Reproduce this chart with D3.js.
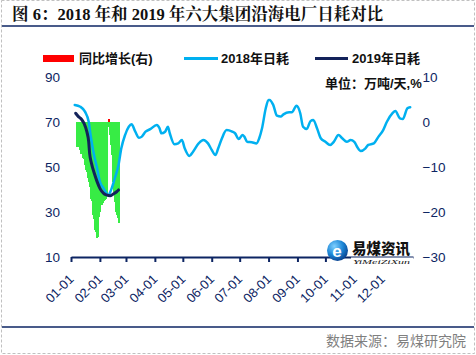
<!DOCTYPE html>
<html><head><meta charset="utf-8">
<script src="https://cdn.jsdelivr.net/npm/d3@7"></script>
<style>
html,body{margin:0;padding:0;background:#fff;}
svg{display:block;}
</style></head><body>
<svg id="chart" width="476" height="355"></svg>
<script>
// ---------------- data ----------------
const dates2018 = ["01-05","01-11","01-16","01-20","01-22","01-25","01-29","02-01","02-05","02-08","02-10","02-13","02-17","02-21","02-24","02-28",
"03-04","03-07","03-11","03-15","03-18","03-22","03-27","04-03","04-06","04-08","04-12","04-15","04-17","04-22","04-26","04-30",
"05-03","05-08","05-12","05-18","05-23","05-28","06-01","06-05","06-08","06-12","06-17","06-23","06-26","06-30",
"07-04","07-06","07-09","07-14","07-19","07-22","07-25","07-29","08-01","08-02","08-06","08-10","08-14","08-17","08-23","08-26","08-31",
"09-04","09-07","09-11","09-15","09-18","09-22","09-26","10-01","10-06","10-10","10-15","10-19","10-24","10-28",
"11-01","11-04","11-08","11-13","11-16","11-22","11-27","12-02","12-06","12-12","12-15","12-20","12-23","12-28","12-31"];
const values2018 = [77.6,76.8,74.6,70.1,64.2,56.8,49.4,43.5,40.5,38.3,37.4,39.8,45.0,50.9,58.3,64.2,
67.9,69.0,65.7,63.0,63.5,65.7,66.8,68.7,67.2,65.0,65.7,67.9,65.0,60.1,60.5,62.0,
58.3,54.9,56.8,60.5,62.0,60.5,57.6,55.3,58.3,62.8,66.4,65.7,65.0,62.4,
64.2,63.5,61.2,61.0,60.5,62.8,67.2,76.1,79.8,79.8,77.6,72.8,72.4,73.4,74.3,74.3,77.2,
73.9,67.9,66.9,70.4,70.9,67.2,62.8,61.2,59.8,61.2,64.2,62.8,61.2,62.0,
61.2,59.0,57.1,58.3,59.8,60.5,63.5,66.4,70.1,73.9,74.9,71.6,71.3,76.1,76.6];

const dates2019 = ["01-06","01-09","01-12","01-15","01-18","01-20","01-21","01-23","01-26","01-29","02-01","02-05","02-08","02-12","02-15","02-19","02-21"];
const values2019 = [73.9,72.4,71.3,69.4,65.7,61.2,56.1,51.6,47.2,43.5,40.5,38.3,37.6,37.2,37.9,39.0,39.8];

const growthDates = ["01-07","01-08","01-09","01-10","01-11","01-12","01-13","01-14","01-15","01-16","01-17","01-18","01-19","01-20",
"01-21","01-22","01-23","01-24","01-25","01-26","01-27","01-28","01-29","01-30","01-31","02-01","02-02","02-03","02-04","02-05",
"02-06","02-07","02-08","02-09","02-10","02-11","02-12","02-13","02-14","02-15","02-16","02-17","02-18","02-19","02-20","02-21"];
const growthValues = [-5.5,-5.5,-5.5,-6.2,-7.0,-7.0,-8.0,-8.2,-8.4,-9.5,-10.7,-11.2,-12.5,-13.3,
-14.5,-17.0,-17.5,-20.7,-21.5,-24.0,-24.5,-25.8,-25.5,-22.9,-21.0,-19.9,-18.4,-18.4,-18.0,-17.5,
-17.3,-17.0,-16.5,-1.0,0.6,-2.9,-5.0,-7.3,-10.5,-13.3,-15.5,-17.7,-20.0,-20.7,-21.3,-22.4];

const leftTicks = [10,30,50,70,90];
const rightTicks = [-30,-20,-10,0,10];
const monthTicks = ["01-01","02-01","03-01","04-01","05-01","06-01","07-01","08-01","09-01","10-01","11-01","12-01"];

const titleText = "图 6：2018 年和 2019 年六大集团沿海电厂日耗对比";
const legendLabels = ["同比增长(右)","2018年日耗","2019年日耗"];
const unitText = "单位：万吨/天,%";
const sourceText = "数据来源：易煤研究院";
const logoText = "易煤资讯";
const logoSub = "YiMeiZiXun";

// ---------------- drawing ----------------
const NAVY = "#0d2563";
const C2018 = "#00b0f0";
const C2019 = "#13225a";
const GREEN = "#37ec45";
const RED = "#ff0000";
const LATIN = "'Liberation Sans','Noto Sans CJK SC',sans-serif";

const parse = s => { const [m,d] = s.split("-").map(Number); return new Date(2018, m-1, d); };

const svg = d3.select("#chart");

// frame
svg.append("rect").attr("x",1.5).attr("y",0.5).attr("width",473).attr("height",353)
  .attr("fill","none").attr("stroke","#c0c0c0").attr("stroke-dasharray","3,2");
svg.append("line").attr("x1",2).attr("x2",474).attr("y1",26).attr("y2",26)
  .attr("stroke",NAVY).attr("stroke-width",1.5);
svg.append("line").attr("x1",2).attr("x2",474).attr("y1",327).attr("y2",327)
  .attr("stroke",NAVY).attr("stroke-width",1.5);

// title
svg.append("text").attr("x",12).attr("y",20)
  .attr("font-family","'Liberation Serif','Noto Serif CJK SC','Noto Sans CJK SC',serif")
  .attr("font-weight","bold").attr("font-size",16.5).attr("fill","#111")
  .text(titleText);

// source
svg.append("text").attr("x",466).attr("y",346).attr("text-anchor","end")
  .attr("font-family","'Noto Sans CJK SC',sans-serif").attr("font-size",14).attr("fill","#7f7f7f")
  .text(sourceText);

// scales
const x = d3.scaleTime().domain([new Date(2018,0,1), new Date(2019,0,3)]).range([71,413]);
const yL = d3.scaleLinear().domain([10,90]).range([257,77]);
const yR = d3.scaleLinear().domain([-30,10]).range([257,77]);

// bars (growth, right axis)
const growth = growthDates.map((d,i)=>({date:parse(d), v:growthValues[i]}));
const nextDay = dt => new Date(dt.getFullYear(), dt.getMonth(), dt.getDate()+1);
svg.append("g").attr("shape-rendering","crispEdges").selectAll("rect").data(growth).join("rect")
  .attr("x", d=>Math.floor(x(d.date)))
  .attr("width", d=>Math.max(1, Math.ceil(x(nextDay(d.date))) - Math.floor(x(d.date))))
  .attr("y", d=>Math.min(yR(0), yR(d.v)))
  .attr("height", d=>Math.abs(yR(d.v)-yR(0)))
  .attr("fill", d=> d.v >= 0 ? RED : GREEN);

// lines
const s2018 = dates2018.map((d,i)=>({date:parse(d), v:values2018[i]}));
const s2019 = dates2019.map((d,i)=>({date:parse(d), v:values2019[i]}));
const line = d3.line().x(d=>x(d.date)).y(d=>yL(d.v)).curve(d3.curveMonotoneX);
svg.append("path").datum(s2018).attr("d",line).attr("fill","none")
  .attr("stroke",C2018).attr("stroke-width",2.5).attr("stroke-linejoin","round").attr("stroke-linecap","round");
svg.append("path").datum(s2019).attr("d",line).attr("fill","none")
  .attr("stroke",C2019).attr("stroke-width",3).attr("stroke-linejoin","round").attr("stroke-linecap","round");

// left axis
const gL = svg.append("g").attr("transform","translate(60,0)")
  .call(d3.axisLeft(yL).tickValues(leftTicks).tickSize(0).tickPadding(0));
gL.select(".domain").remove();
gL.selectAll("text").attr("font-family",LATIN).attr("font-size",13.5).attr("fill",NAVY);

// right axis
const gR = svg.append("g").attr("transform","translate(422.5,0)")
  .call(d3.axisRight(yR).tickValues(rightTicks).tickSize(0).tickPadding(0));
gR.select(".domain").remove();
gR.selectAll("text").attr("font-family",LATIN).attr("font-size",13.5).attr("fill",NAVY);

// bottom axis
const gB = svg.append("g").attr("transform","translate(0,257)")
  .call(d3.axisBottom(x).tickValues(monthTicks.map(parse)).tickSize(5).tickSizeOuter(0)
    .tickFormat(d3.timeFormat("%m-%d")));
gB.select(".domain").attr("stroke",NAVY).attr("stroke-width",2);
gB.selectAll(".tick line").attr("stroke",NAVY).attr("stroke-width",2);
gB.selectAll(".tick text")
  .attr("font-family",LATIN).attr("font-size",13).attr("fill",NAVY)
  .attr("text-anchor","end").attr("x",0).attr("y",0).attr("dy",0)
  .attr("transform","translate(3,23) rotate(-45)");

// legend
const lg = svg.append("g").attr("font-family",LATIN).attr("font-weight","bold").attr("font-size",13).attr("fill","#111");
lg.append("rect").attr("x",43).attr("y",55).attr("width",31).attr("height",7).attr("fill",RED);
lg.append("text").attr("x",79).attr("y",63).text(legendLabels[0]);
lg.append("line").attr("x1",184).attr("x2",218).attr("y1",58.5).attr("y2",58.5).attr("stroke",C2018).attr("stroke-width",3);
lg.append("text").attr("x",221).attr("y",63).text(legendLabels[1]);
lg.append("line").attr("x1",315).attr("x2",348).attr("y1",58.5).attr("y2",58.5).attr("stroke",C2019).attr("stroke-width",3);
lg.append("text").attr("x",352).attr("y",63).text(legendLabels[2]);
lg.append("text").attr("x",325).attr("y",88).text(unitText);

// logo
const defs = svg.append("defs");
const rg = defs.append("radialGradient").attr("id","lg1").attr("cx","35%").attr("cy","30%").attr("r","75%");
rg.append("stop").attr("offset","0%").attr("stop-color","#7fd0ff");
rg.append("stop").attr("offset","55%").attr("stop-color","#1c86d6");
rg.append("stop").attr("offset","100%").attr("stop-color","#0a3f8c");
const logo = svg.append("g");
logo.append("rect").attr("x",351).attr("y",257.5).attr("width",62).attr("height",6).attr("fill","#fff");
logo.append("circle").attr("cx",337.5).attr("cy",250.5).attr("r",10.5).attr("fill","url(#lg1)");
logo.append("text").attr("x",337).attr("y",256.5).attr("text-anchor","middle")
  .attr("font-family","'Liberation Sans',sans-serif").attr("font-weight","bold").attr("font-size",17)
  .attr("fill","#fff").text("e");
logo.append("text").attr("x",352).attr("y",253.5)
  .attr("font-family","'Noto Sans CJK SC',sans-serif").attr("font-weight","900").attr("font-size",14.5)
  .attr("fill","#111").text(logoText);
logo.append("text").attr("x",353).attr("y",263.5).attr("textLength",57).attr("lengthAdjust","spacingAndGlyphs")
  .attr("font-family","'Liberation Serif',serif").attr("font-style","italic").attr("font-size",7)
  .attr("fill","#111").text(logoSub);
</script>
</body></html>
